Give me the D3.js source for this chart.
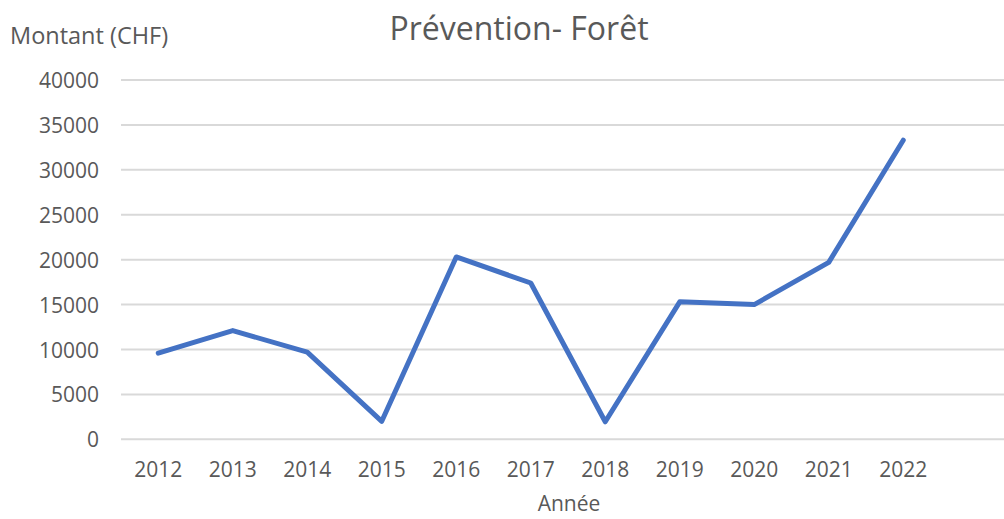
<!DOCTYPE html>
<html>
<head>
<meta charset="utf-8">
<script src="https://cdn.jsdelivr.net/npm/d3@7"></script>
<style>
  body { margin: 0; background: #fff; }
  text { font-family: "Open Sans", Lato, sans-serif; fill: #595959; }
</style>
</head>
<body>
<svg id="chart"></svg>
<script>
const years = ["2012", "2013", "2014", "2015", "2016", "2017", "2018", "2019", "2020", "2021", "2022"];
const montants = [9600, 12100, 9700, 2000, 20300, 17400, 1950, 15300, 15000, 19700, 33300];
const yTicks = [0, 5000, 10000, 15000, 20000, 25000, 30000, 35000, 40000];

const width = 1004, height = 519;
const margin = { top: 80, right: 0, bottom: 80, left: 121 };
const band = 74.5;

const svg = d3.select("#chart")
    .attr("width", width)
    .attr("height", height);

const x = d3.scaleBand()
    .domain(years)
    .range([margin.left, margin.left + band * years.length]);

const y = d3.scaleLinear()
    .domain([0, 40000])
    .range([439.3, 80]);

// gridlines
svg.append("g")
    .selectAll("line")
    .data(yTicks)
    .join("line")
    .attr("x1", margin.left)
    .attr("x2", width)
    .attr("y1", d => y(d))
    .attr("y2", d => y(d))
    .attr("stroke", "#d9d9d9")
    .attr("stroke-width", 2);

// y axis labels
const yAxis = svg.append("g")
    .attr("transform", `translate(99,0)`)
    .call(d3.axisLeft(y).tickValues(yTicks).tickSize(0).tickPadding(0).tickFormat(d3.format("d")));
yAxis.select(".domain").remove();
yAxis.selectAll("text")
    .attr("font-size", 21)
    .attr("dy", "0.36em")
    .attr("fill", "#595959");

// x axis labels
const xAxis = svg.append("g")
    .attr("transform", `translate(0,462)`)
    .call(d3.axisBottom(x).tickSize(0).tickPadding(0));
xAxis.select(".domain").remove();
xAxis.selectAll("text")
    .attr("font-size", 21)
    .attr("dy", "0.72em")
    .attr("fill", "#595959");

// line
const line = d3.line()
    .x((d, i) => x(years[i]) + x.bandwidth() / 2)
    .y(d => y(d));

svg.append("path")
    .datum(montants)
    .attr("fill", "none")
    .attr("stroke", "#4472c4")
    .attr("stroke-width", 5)
    .attr("stroke-linejoin", "round")
    .attr("stroke-linecap", "round")
    .attr("d", line);

// titles
svg.append("text")
    .attr("x", 519)
    .attr("y", 40)
    .attr("text-anchor", "middle")
    .attr("font-size", 32)
    .text("Prévention- Forêt");

svg.append("text")
    .attr("x", 10)
    .attr("y", 44)
    .attr("font-size", 23.5)
    .text("Montant (CHF)");

svg.append("text")
    .attr("x", 569)
    .attr("y", 511)
    .attr("text-anchor", "middle")
    .attr("font-size", 21)
    .text("Année");
</script>
</body>
</html>
